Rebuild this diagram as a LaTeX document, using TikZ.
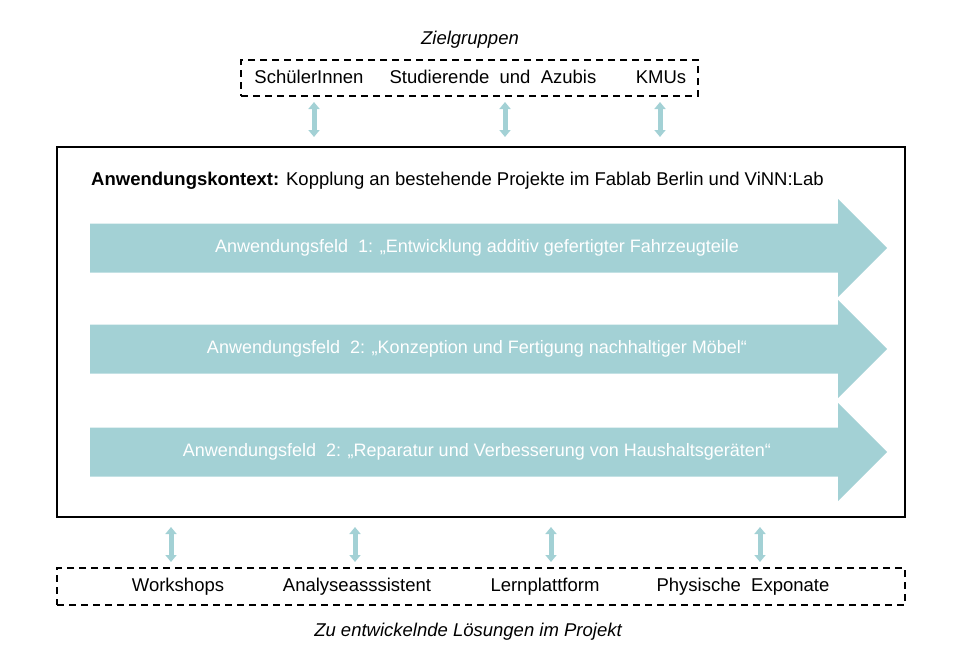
\documentclass[tikz,border=0pt]{standalone}
\usepackage{fontspec}
\setmainfont{Liberation Sans}
\usetikzlibrary{arrows.meta}
\definecolor{feldteal}{RGB}{163,209,213}
\newcommand{\gr}{\fontsize{18.5}{21}\selectfont}
\newcommand{\kl}{\fontsize{18}{21}\selectfont}

\begin{document}
\begin{tikzpicture}[x=1pt, y=-1pt,
    every node/.style={font=\gr, inner sep=0pt},
    dashbox/.style={draw, line width=1.3pt, dash pattern=on 7pt off 5pt},
    dblarrow/.style={draw=feldteal, line width=5pt,
      {Triangle[width=11pt, length=7pt]}-{Triangle[width=11pt, length=7pt]}},
    feldtext/.style={text=white, font=\kl}]
    \useasboundingbox (0,0) rectangle (967,656);
    % Zielgruppen
    \node (zielgruppen) at (470,40){\itshape Zielgruppen};
    \node[dashbox, minimum width=457, minimum height=36] (zielbox) at (469.5,78){};
    \node (schueler) at (309,77){SchülerInnen};
    \node (studis) at (493,77){Studierende\ \ und\ \ Azubis};
    \node (kmu) at (661,77){KMUs};
    % Anwendungskontext
    \node[draw, line width=1.5pt, minimum width=848, minimum height=370] (kontext) at (481,332){};
    \node[anchor=west] (kontexttext) at (91,181){\textbf{Anwendungskontext:} Kopplung an bestehende Projekte im Fablab Berlin und ViNN:Lab};
    \fill[feldteal] (90,223.5) -- (838,223.5) -- (838,199) -- (887,248) -- (838,297) -- (838,272.5) -- (90,272.5) -- cycle;
    \fill[feldteal] (90,324.5) -- (838,324.5) -- (838,300) -- (887,349) -- (838,398) -- (838,373.5) -- (90,373.5) -- cycle;
    \fill[feldteal] (90,427.5) -- (838,427.5) -- (838,403) -- (887,452) -- (838,501) -- (838,476.5) -- (90,476.5) -- cycle;
    \node[feldtext] (feld1) at (477,248){Anwendungsfeld\ \ 1: „Entwicklung additiv gefertigter Fahrzeugteile};
    \node[feldtext] (feld2) at (477,349){Anwendungsfeld\ \ 2: „Konzeption und Fertigung nachhaltiger Möbel“};
    \node[feldtext] (feld3) at (477,452){Anwendungsfeld\ \ 2: „Reparatur und Verbesserung von Haushaltsgeräten“};
    % Loesungen
    \node[dashbox, minimum width=848, minimum height=37] (loesbox) at (481,586.5){};
    \node (workshops) at (178,587){Workshops};
    \node (analyse) at (357,587){Analyseasssistent};
    \node (lernpf) at (545,587){Lernplattform};
    \node (exponate) at (743,587){Physische\ \ Exponate};
    \node (loesungen) at (468,632){\itshape Zu entwickelnde Lösungen im Projekt};
    % Verbindungen
    \coordinate (z1o) at (314,102); \coordinate (z1u) at (314,137);
    \coordinate (z2o) at (505,102); \coordinate (z2u) at (505,137);
    \coordinate (z3o) at (660,102); \coordinate (z3u) at (660,137);
    \coordinate (l1o) at (171,527); \coordinate (l1u) at (171,562);
    \coordinate (l2o) at (355,527); \coordinate (l2u) at (355,562);
    \coordinate (l3o) at (551,527); \coordinate (l3u) at (551,562);
    \coordinate (l4o) at (760,527); \coordinate (l4u) at (760,562);
    \draw[dblarrow] (z1o)--(z1u);
    \draw[dblarrow] (z2o)--(z2u);
    \draw[dblarrow] (z3o)--(z3u);
    \draw[dblarrow] (l1o)--(l1u);
    \draw[dblarrow] (l2o)--(l2u);
    \draw[dblarrow] (l3o)--(l3u);
    \draw[dblarrow] (l4o)--(l4u);
\end{tikzpicture}
\end{document}
